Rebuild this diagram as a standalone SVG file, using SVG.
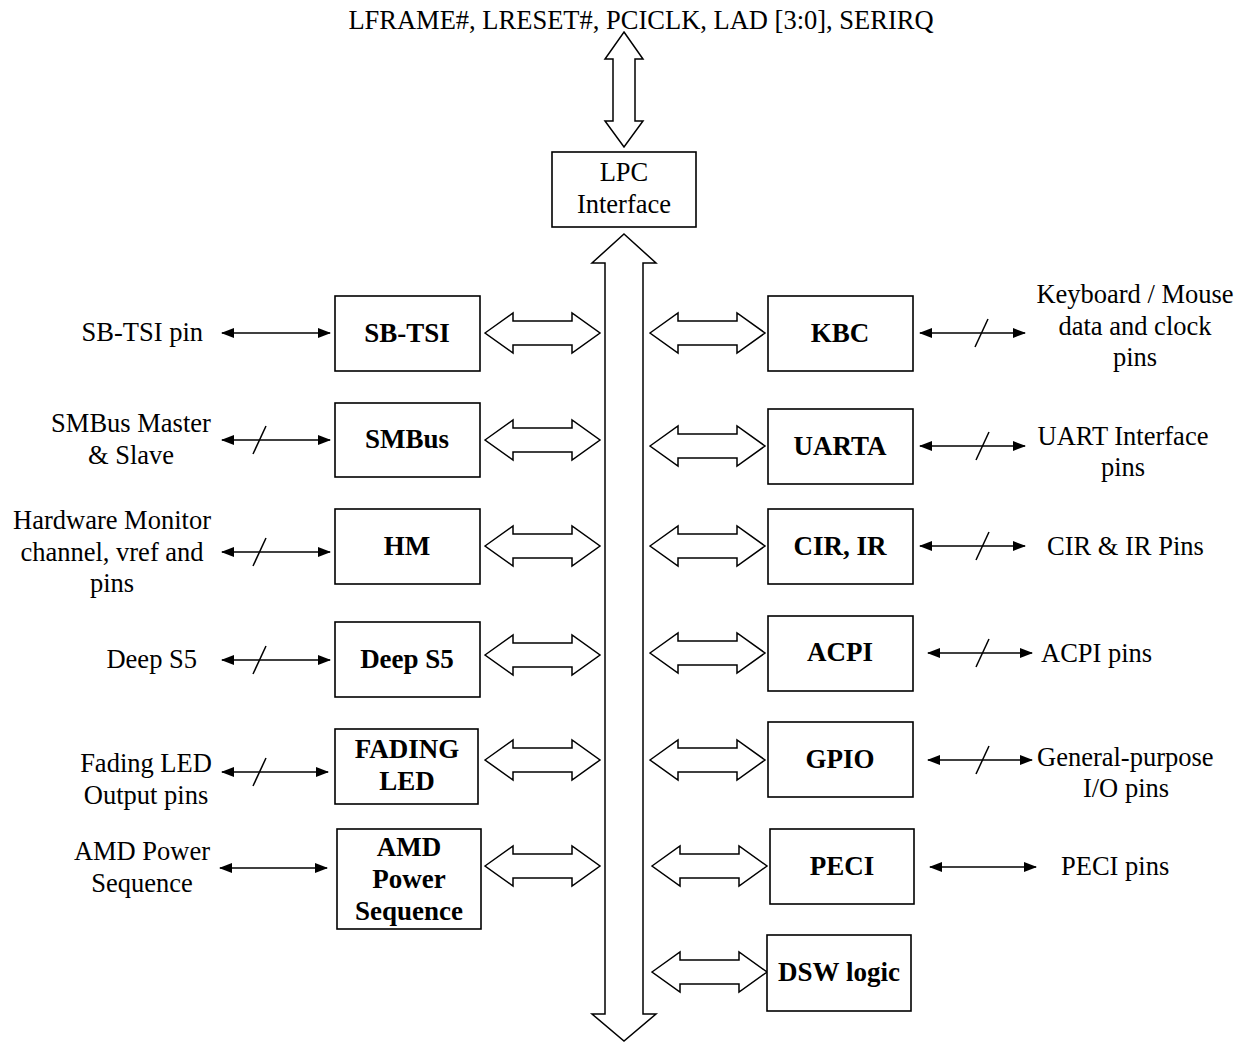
<svg xmlns="http://www.w3.org/2000/svg" xmlns:xlink="http://www.w3.org/1999/xlink" width="1245" height="1042" viewBox="0 0 1245 1042">
<style>
.box{fill:#fff;stroke:#000;stroke-width:1.6}
.blk{fill:#fff;stroke:#000;stroke-width:1.5;stroke-linejoin:miter}
.ln{stroke:#000;stroke-width:1.5;fill:none}
.t{font-family:"Liberation Serif","Times New Roman",serif;font-size:26.5px;fill:#000}
.b{font-family:"Liberation Serif","Times New Roman",serif;font-size:27px;font-weight:bold;fill:#000;text-anchor:middle}
.m{text-anchor:middle}
.e{text-anchor:end}
</style>
<defs>
<marker id="ah" viewBox="0 0 13 10" refX="12" refY="5" markerWidth="13" markerHeight="10" markerUnits="userSpaceOnUse" orient="auto-start-reverse">
<path d="M0,0 L13,5 L0,10 z" fill="#000"/>
</marker>
<path id="barrow" class="blk" d="M0,0 L28,-20 L28,-12 L87,-12 L87,-20 L115,0 L87,20 L87,12 L28,12 L28,20 Z"/>
</defs>
<rect width="1245" height="1042" fill="#fff"/>

<text class="t m" x="641" y="29" font-size="25.5">LFRAME#, LRESET#, PCICLK, LAD [3:0], SERIRQ</text>

<g id="connectors">
<path class="blk" d="M624,32 L643,59 L635,59 L635,121 L643,121 L624,147 L605,121 L613,121 L613,59 L605,59 Z"/>
<path class="blk" d="M624,234 L656,263 L643,263 L643,1014 L656,1014 L624,1041 L592,1014 L605,1014 L605,263 L592,263 Z"/>
<use xlink:href="#barrow" x="485" y="333"/>
<use xlink:href="#barrow" x="485" y="440"/>
<use xlink:href="#barrow" x="485" y="546"/>
<use xlink:href="#barrow" x="485" y="655"/>
<use xlink:href="#barrow" x="485" y="760"/>
<use xlink:href="#barrow" x="485" y="866"/>
<use xlink:href="#barrow" x="650" y="333"/>
<use xlink:href="#barrow" x="650" y="446"/>
<use xlink:href="#barrow" x="650" y="546"/>
<use xlink:href="#barrow" x="650" y="653"/>
<use xlink:href="#barrow" x="650" y="760"/>
<use xlink:href="#barrow" x="652" y="866"/>
<use xlink:href="#barrow" x="652" y="972"/>

<line class="ln" x1="222" y1="333" x2="330" y2="333" marker-start="url(#ah)" marker-end="url(#ah)"/>
<line class="ln" x1="222" y1="440" x2="330" y2="440" marker-start="url(#ah)" marker-end="url(#ah)"/>
<line class="ln" x1="253" y1="454" x2="266" y2="426"/>
<line class="ln" x1="222" y1="552" x2="330" y2="552" marker-start="url(#ah)" marker-end="url(#ah)"/>
<line class="ln" x1="253" y1="566" x2="266" y2="538"/>
<line class="ln" x1="222" y1="660" x2="330" y2="660" marker-start="url(#ah)" marker-end="url(#ah)"/>
<line class="ln" x1="253" y1="674" x2="266" y2="646"/>
<line class="ln" x1="222" y1="772" x2="328" y2="772" marker-start="url(#ah)" marker-end="url(#ah)"/>
<line class="ln" x1="253" y1="786" x2="266" y2="758"/>
<line class="ln" x1="220" y1="868" x2="327" y2="868" marker-start="url(#ah)" marker-end="url(#ah)"/>

<line class="ln" x1="920" y1="333" x2="1025" y2="333" marker-start="url(#ah)" marker-end="url(#ah)"/>
<line class="ln" x1="975" y1="347" x2="988" y2="319"/>
<line class="ln" x1="920" y1="446" x2="1025" y2="446" marker-start="url(#ah)" marker-end="url(#ah)"/>
<line class="ln" x1="976" y1="460" x2="989" y2="432"/>
<line class="ln" x1="920" y1="546" x2="1025" y2="546" marker-start="url(#ah)" marker-end="url(#ah)"/>
<line class="ln" x1="976" y1="560" x2="989" y2="532"/>
<line class="ln" x1="928" y1="653" x2="1032" y2="653" marker-start="url(#ah)" marker-end="url(#ah)"/>
<line class="ln" x1="976" y1="667" x2="989" y2="639"/>
<line class="ln" x1="928" y1="760" x2="1032" y2="760" marker-start="url(#ah)" marker-end="url(#ah)"/>
<line class="ln" x1="976" y1="774" x2="989" y2="746"/>
<line class="ln" x1="930" y1="867" x2="1036" y2="867" marker-start="url(#ah)" marker-end="url(#ah)"/>
</g>

<g id="lpc"><rect class="box" x="552" y="152" width="144" height="75"/>
<text class="t m" x="624" y="181">LPC</text><text class="t m" x="624" y="213">Interface</text></g>

<g id="sbtsi"><rect class="box" x="335" y="296" width="145" height="75"/><text class="b" x="407" y="342">SB-TSI</text></g>
<g id="smbus"><rect class="box" x="335" y="403" width="145" height="74"/><text class="b" x="407" y="448">SMBus</text></g>
<g id="hm"><rect class="box" x="335" y="509" width="145" height="75"/><text class="b" x="407" y="555">HM</text></g>
<g id="deeps5"><rect class="box" x="335" y="622" width="145" height="75"/><text class="b" x="407" y="668">Deep S5</text></g>
<g id="fadingled"><rect class="box" x="335" y="729" width="143" height="75"/><text class="b" x="407" y="758">FADING</text><text class="b" x="407" y="790">LED</text></g>
<g id="amdpower"><rect class="box" x="337" y="829" width="144" height="100"/><text class="b" x="409" y="856">AMD</text><text class="b" x="409" y="888">Power</text><text class="b" x="409" y="920">Sequence</text></g>

<g id="kbc"><rect class="box" x="768" y="296" width="145" height="75"/><text class="b" x="840" y="342">KBC</text></g>
<g id="uarta"><rect class="box" x="768" y="409" width="145" height="75"/><text class="b" x="840" y="455">UARTA</text></g>
<g id="cirir"><rect class="box" x="768" y="509" width="145" height="75"/><text class="b" x="840" y="555">CIR, IR</text></g>
<g id="acpi"><rect class="box" x="768" y="616" width="145" height="75"/><text class="b" x="840" y="661">ACPI</text></g>
<g id="gpio"><rect class="box" x="768" y="722" width="145" height="75"/><text class="b" x="840" y="768">GPIO</text></g>
<g id="peci"><rect class="box" x="770" y="829" width="144" height="75"/><text class="b" x="842" y="875">PECI</text></g>
<g id="dsw"><rect class="box" x="767" y="935" width="144" height="76"/><text class="b" x="839" y="981">DSW logic</text></g>

<g id="labels">
<text class="t e" x="203" y="341">SB-TSI pin</text>
<text class="t m" x="131" y="432">SMBus Master</text><text class="t m" x="131" y="464">&amp; Slave</text>
<text class="t m" x="112" y="529">Hardware Monitor</text><text class="t m" x="112" y="561">channel, vref and</text><text class="t m" x="112" y="592">pins</text>
<text class="t e" x="197" y="668">Deep S5</text>
<text class="t m" x="146" y="772">Fading LED</text><text class="t m" x="146" y="804">Output pins</text>
<text class="t m" x="142" y="860">AMD Power</text><text class="t m" x="142" y="892">Sequence</text>
<text class="t m" x="1135" y="303">Keyboard / Mouse</text><text class="t m" x="1135" y="335">data and clock</text><text class="t m" x="1135" y="366">pins</text>
<text class="t m" x="1123" y="445">UART Interface</text><text class="t m" x="1123" y="476">pins</text>
<text class="t" x="1047" y="555">CIR &amp; IR Pins</text>
<text class="t" x="1041" y="662">ACPI pins</text>
<text class="t" x="1037" y="766">General-purpose</text><text class="t m" x="1126" y="797">I/O pins</text>
<text class="t" x="1061" y="875">PECI pins</text>
</g>
</svg>
